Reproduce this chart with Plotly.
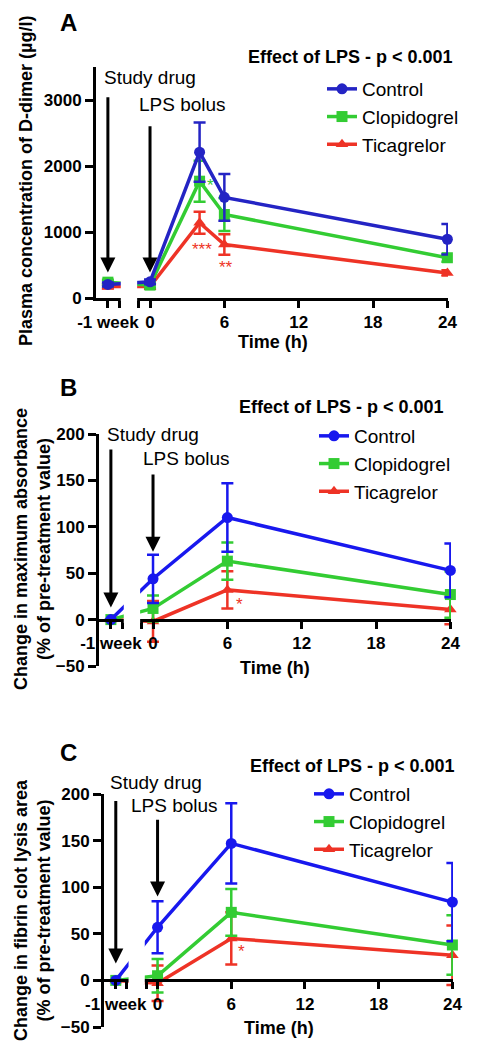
import plotly.graph_objects as go

# ---------------- data ----------------
WEEK_POS = -3.4  # axis position used for the "-1 week" baseline on the broken time axis
times_A = [WEEK_POS, 0, 4, 6, 24]
times_BC = [WEEK_POS, 0, 6, 24]
series_names = ["Control", "Clopidogrel", "Ticagrelor"]

# Panel A: plasma D-dimer (µg/l)
control_A = [205, 245, 2210, 1525, 890]
control_A_err = [30, 35, 450, 355, 230]
clop_A = [240, 195, 1770, 1265, 610]
clop_A_err = [35, 35, 310, 250, 60]
tica_A = [175, 175, 1140, 810, 380]
tica_A_err = [30, 35, 165, 155, 40]

# Panel B: change in maximum absorbance (% of pre-treatment value)
control_B = [0, 44, 110, 53]
control_B_err = [None, 26, 37, 29]
clop_B = [0, 12, 63, 27]
clop_B_err = [None, 14, 20, 25]
tica_B = [0, -2, 32, 11]
tica_B_err = [None, 22, 20, 16]

# Panel C: change in fibrin clot lysis area (% of pre-treatment value)
control_C = [0, 57, 147, 84]
control_C_err = [None, 28, 43, 42]
clop_C = [0, 5, 73, 38]
clop_C_err = [None, 18, 25, 32]
tica_C = [0, -3, 45, 27]
tica_C_err = [None, 19, 28, 32]

x_tickvals = [WEEK_POS, -2.5, -0.9, 0, 6, 12, 18, 24]
x_ticktext = ["-1 week", "", "", "0", "6", "12", "18", "24"]

# ---------------- styling ----------------
W, H = 479, 1049
FONT = "Liberation Sans, Arial, sans-serif"
GREEN = "#33CC33"
RED = "#EE3326"
BLUE_A = "#2424C4"
BLUE_BC = "#1818EE"


def px_x(p):
    return p / W


def px_y(p):
    return 1 - p / H


panels = [
    dict(sfx="", xd=(96, 448), yd=(67, 298), yr=[0, 3500], yt=[0, 1000, 2000, 3000],
         x=times_A, blue=BLUE_A,
         data=[(control_A, control_A_err), (clop_A, clop_A_err), (tica_A, tica_A_err)],
         legend="legend"),
    dict(sfx="2", xd=(99, 451), yd=(434, 666), yr=[-50, 200], yt=[-50, 0, 50, 100, 150, 200],
         x=times_BC, blue=BLUE_BC,
         data=[(control_B, control_B_err), (clop_B, clop_B_err), (tica_B, tica_B_err)],
         legend="legend2"),
    dict(sfx="3", xd=(104, 453), yd=(794, 1027), yr=[-50, 200], yt=[-50, 0, 50, 100, 150, 200],
         x=times_BC, blue=BLUE_BC,
         data=[(control_C, control_C_err), (clop_C, clop_C_err), (tica_C, tica_C_err)],
         legend="legend3"),
]

fig = go.Figure()
layout = dict(width=W, height=H, margin=dict(l=0, r=0, t=0, b=0, pad=0, autoexpand=False),
              paper_bgcolor="white", plot_bgcolor="white", showlegend=True,
              font=dict(family=FONT, color="black"))
shapes = []
annotations = []

symbols = ["circle", "square", "triangle-up"]
XR = [-4.36, 24.05]

for p in panels:
    sfx = p["sfx"]
    xa, ya = "x" + sfx, "y" + sfx
    colors = [p["blue"], GREEN, RED]
    for idx in [2, 1, 0]:
        vals, errs = p["data"][idx]
        fig.add_trace(go.Scatter(
            x=p["x"], y=vals, name=series_names[idx], mode="lines+markers",
            xaxis=xa, yaxis=ya, legend=p["legend"], legendrank=idx + 1,
            line=dict(color=colors[idx], width=3.5),
            marker=dict(symbol=symbols[idx], size=11, color=colors[idx]),
            error_y=dict(type="data", array=errs, visible=True, color=colors[idx],
                         thickness=2.5, width=6),
            cliponaxis=False, hoverinfo="skip"))
    ydom = [px_y(p["yd"][1]), px_y(p["yd"][0])]
    xdom = [px_x(p["xd"][0]), px_x(p["xd"][1])]
    xaxis = dict(domain=xdom, range=XR, showline=True, linewidth=3, linecolor="black",
                 ticks="outside", ticklen=7, tickwidth=3, tickcolor="black",
                 tickvals=x_tickvals, ticktext=x_ticktext, showgrid=False, zeroline=False,
                 automargin=False,
                 tickfont=dict(family=FONT, size=17, weight="bold", color="black"))
    if p["yr"][0] < 0:
        frac = (0 - p["yr"][0]) / (p["yr"][1] - p["yr"][0])
        xaxis.update(anchor="free", position=ydom[0] + frac * (ydom[1] - ydom[0]))
    else:
        xaxis.update(anchor=ya)
    yaxis = dict(domain=ydom, range=p["yr"], anchor=xa, showline=True, linewidth=3,
                 linecolor="black", ticks="outside", ticklen=8, tickwidth=3,
                 tickcolor="black", tickvals=p["yt"], showgrid=False, zeroline=False,
                 automargin=False,
                 tickfont=dict(family=FONT, size=17, weight="bold", color="black"))
    layout["xaxis" + sfx] = xaxis
    layout["yaxis" + sfx] = yaxis

# white masks for the axis break (hide the axis and connecting lines in the gap)
mask_px = [(66, 301), (433, 623), (793, 984)]
for (top, bot), sfx in zip(mask_px, ["", "2", "3"]):
    shapes.append(dict(type="rect", xref="x" + sfx, yref="paper", x0=-2.36, x1=-1.04,
                       y0=px_y(bot), y1=px_y(top), fillcolor="white",
                       line=dict(width=0), layer="above"))


def txt(text, cx, cy, size, bold=False, color="black", angle=0):
    annotations.append(dict(text=text, x=px_x(cx), y=px_y(cy), xref="paper", yref="paper",
                            xanchor="center", yanchor="middle", showarrow=False,
                            textangle=angle,
                            font=dict(family=FONT, size=size, color=color,
                                      weight="bold" if bold else "normal")))


def arrow(sfx, x, y_tip, y_tail):
    annotations.append(dict(text="", x=x, y=y_tip, ax=x, ay=y_tail,
                            xref="x" + sfx, yref="y" + sfx, axref="x" + sfx, ayref="y" + sfx,
                            showarrow=True, arrowhead=2, arrowsize=1, arrowwidth=3,
                            arrowcolor="black", standoff=0))


def star(sfx, text, x, y, color):
    annotations.append(dict(text=text, x=x, y=y, xref="x" + sfx, yref="y" + sfx,
                            showarrow=False, xanchor="center", yanchor="middle",
                            font=dict(family=FONT, size=17, color=color)))


txt("A", 68, 23, 24, bold=True)
txt("B", 68, 387, 24, bold=True)
txt("C", 68, 752, 24, bold=True)

txt("Effect of LPS - p < 0.001", 350, 57, 18, bold=True)
txt("Effect of LPS - p < 0.001", 341, 407, 18, bold=True)
txt("Effect of LPS - p < 0.001", 352, 766, 18, bold=True)

txt("Study drug", 150, 77, 19)
txt("LPS bolus", 182, 105, 19)
txt("Study drug", 153, 434, 19)
txt("LPS bolus", 186, 458, 19)
txt("Study drug", 156, 782, 19)
txt("LPS bolus", 174, 805, 19)

arrow("", WEEK_POS, 386, 3063)
arrow("", 0, 386, 2625)
arrow("2", WEEK_POS, 13, 185)
arrow("2", 0, 73, 158)
arrow("3", WEEK_POS, 18, 194)
arrow("3", 0, 90, 174)

star("", "***", 4.2, 740, RED)
star("", "**", 6.1, 455, RED)
star("", "*", 4.9, 1710, GREEN)
star("2", "*", 7.0, 16, RED)
star("3", "*", 6.85, 31, RED)

txt("Plasma concentration of D-dimer (µg/l)", 26, 181, 18, bold=True, angle=-90)
txt("Change in maximum absorbance<br>(% of pre-treatment value)", 32, 549, 18, bold=True, angle=-90)
txt("Change in fibrin clot lysis area<br>(% of pre-treatment value)", 32, 910, 18, bold=True, angle=-90)
txt("Time (h)", 273, 342, 18, bold=True)
txt("Time (h)", 275, 668, 18, bold=True)
txt("Time (h)", 279, 1028, 18, bold=True)

leg_common = dict(xanchor="left", yanchor="top", bgcolor="rgba(0,0,0,0)", borderwidth=0,
                  itemwidth=30, tracegroupgap=0, traceorder="normal",
                  font=dict(family=FONT, size=19, color="black"))
layout["legend"] = dict(x=px_x(322), y=px_y(70), **leg_common)
layout["legend2"] = dict(x=px_x(314), y=px_y(417), **leg_common)
layout["legend3"] = dict(x=px_x(309), y=px_y(775), **leg_common)

layout["shapes"] = shapes
layout["annotations"] = annotations
fig.update_layout(**layout)
fig.write_html(
    "out.html",
    config={"displayModeBar": False},
    post_script="document.body.style.margin='0';document.body.style.overflow='hidden';"
                "document.documentElement.style.overflow='hidden';",
)
